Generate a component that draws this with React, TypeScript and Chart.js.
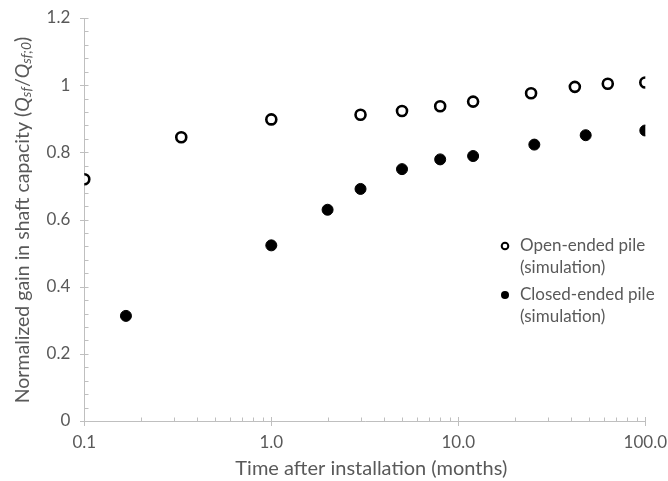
import React, { useEffect, useRef } from "react";
import { Chart, registerables } from "chart.js";

Chart.register(...registerables);

// ---- data ----
const openTimeMonths = [0.1, 0.33, 1, 3, 5, 8, 12, 24.5, 42, 63, 100];
const openGain = [0.72, 0.845, 0.898, 0.912, 0.923, 0.937, 0.951, 0.976, 0.995, 1.004, 1.008];
const closedTimeMonths = [0.167, 1, 2, 3, 5, 8, 12, 25.5, 48, 100];
const closedGain = [0.313, 0.523, 0.629, 0.691, 0.75, 0.779, 0.789, 0.823, 0.851, 0.865];

const xMajorTicks = [0.1, 1, 10, 100];
const xTickLabels = ["0.1", "1.0", "10.0", "100.0"];
const yMajorTicks = [0, 0.2, 0.4, 0.6, 0.8, 1, 1.2];
const yTickLabels = ["0", "0.2", "0.4", "0.6", "0.8", "1", "1.2"];
const yMinorStep = 0.04;

const seriesNames = [
  ["Open-ended pile", "(simulation)"],
  ["Closed-ended pile", "(simulation)"],
];
const xTitle = "Time after installation (months)";

const FONT = "Lato, 'Open Sans', sans-serif";
const TEXT_COLOR = "#595959";
const AXIS_COLOR = "#bfbfbf";

export default function App() {
  const ref = useRef<HTMLCanvasElement>(null);

  useEffect(() => {
    const canvas = ref.current!;

    const axesPlugin = {
      id: "excelAxes",
      beforeDatasetsDraw(chart: any) {
        const { ctx, chartArea, scales } = chart;
        const xs = scales.x;
        const ys = scales.y;
        const ax = Math.round(chartArea.left) + 0.5;
        const ay = Math.round(chartArea.bottom) + 0.5;
        ctx.save();
        ctx.strokeStyle = AXIS_COLOR;
        ctx.lineWidth = 1;
        ctx.beginPath();
        ctx.moveTo(ax, Math.round(chartArea.top));
        ctx.lineTo(ax, ay);
        ctx.lineTo(Math.round(chartArea.right) + 1, ay);
        for (const v of xMajorTicks) {
          const px = Math.round(xs.getPixelForValue(v)) + 0.5;
          ctx.moveTo(px, ay - 4.5);
          ctx.lineTo(px, ay + 4.5);
        }
        for (let e = -1; e < 2; e++) {
          for (let k = 2; k <= 9; k++) {
            const px = Math.round(xs.getPixelForValue(k * Math.pow(10, e))) + 0.5;
            ctx.moveTo(px, ay);
            ctx.lineTo(px, ay - 4);
          }
        }
        for (const v of yMajorTicks) {
          const py = Math.round(ys.getPixelForValue(v)) + 0.5;
          ctx.moveTo(ax - 4.5, py);
          ctx.lineTo(ax + 4, py);
        }
        const n = Math.round(1.2 / yMinorStep);
        for (let i = 1; i < n; i++) {
          if (i % 5 === 0) continue;
          const py = Math.round(ys.getPixelForValue(i * yMinorStep)) + 0.5;
          ctx.moveTo(ax, py);
          ctx.lineTo(ax + 4, py);
        }
        ctx.stroke();
        ctx.restore();
      },
      afterDraw(chart: any) {
        const { ctx, chartArea } = chart;
        ctx.save();
        ctx.fillStyle = TEXT_COLOR;
        // x title
        ctx.font = `20px ${FONT}`;
        ctx.textAlign = "center";
        ctx.textBaseline = "middle";
        ctx.fillText(xTitle, chartArea.left + 287, chartArea.bottom + 48);

        // y title (rich text, rotated)
        const segs: { t: string; italic: boolean; sub: boolean }[] = [
          { t: "Normalized gain in shaft capacity (", italic: false, sub: false },
          { t: "Q", italic: true, sub: false },
          { t: "sf", italic: true, sub: true },
          { t: "/", italic: false, sub: false },
          { t: "Q", italic: true, sub: false },
          { t: "sf;0", italic: true, sub: true },
          { t: ")", italic: false, sub: false },
        ];
        const fontFor = (s: { italic: boolean; sub: boolean }) =>
          `${s.italic ? "italic " : ""}${s.sub ? 14 : 19.5}px ${FONT}`;
        let total = 0;
        const widths = segs.map((s) => {
          ctx.font = fontFor(s);
          const w = ctx.measureText(s.t).width;
          total += w;
          return w;
        });
        ctx.translate(22.5, chartArea.top + 202);
        ctx.rotate(-Math.PI / 2);
        ctx.textAlign = "left";
        ctx.textBaseline = "middle";
        let cx = -total / 2;
        segs.forEach((s, i) => {
          ctx.font = fontFor(s);
          ctx.fillText(s.t, cx, s.sub ? 4 : 0);
          cx += widths[i];
        });
        ctx.restore();

        // legend
        ctx.save();
        const mx = chartArea.right - 140.3;
        const rows = [chartArea.top + 228, chartArea.top + 277];
        ctx.font = `17px ${FONT}`;
        ctx.textAlign = "left";
        ctx.textBaseline = "middle";
        rows.forEach((ry, i) => {
          ctx.beginPath();
          ctx.arc(mx, ry, i === 0 ? 3.3 : 4, 0, Math.PI * 2);
          if (i === 0) {
            ctx.fillStyle = "#fff";
            ctx.fill();
            ctx.lineWidth = 2;
            ctx.strokeStyle = "#000";
            ctx.stroke();
          } else {
            ctx.fillStyle = "#000";
            ctx.fill();
          }
          ctx.fillStyle = TEXT_COLOR;
          seriesNames[i].forEach((line, j) => {
            ctx.fillText(line, mx + 15, ry + j * 22);
          });
        });
        ctx.restore();
      },
    };

    const chart = new Chart(canvas, {
      type: "scatter",
      data: {
        datasets: [
          {
            label: seriesNames[0].join(" "),
            data: openTimeMonths.map((x, i) => ({ x, y: openGain[i] })),
            pointRadius: 5,
            pointHoverRadius: 5,
            pointBorderWidth: 2.6,
            pointBackgroundColor: "#ffffff",
            pointBorderColor: "#000000",
          },
          {
            label: seriesNames[1].join(" "),
            data: closedTimeMonths.map((x, i) => ({ x, y: closedGain[i] })),
            pointRadius: 5.5,
            pointHoverRadius: 5.5,
            pointBorderWidth: 1,
            pointBackgroundColor: "#000000",
            pointBorderColor: "#000000",
          },
        ],
      },
      options: {
        responsive: false,
        animation: false,
        events: [],
        layout: { padding: { top: 18, right: 22.7, left: 0, bottom: 0 } },
        plugins: { legend: { display: false }, tooltip: { enabled: false } },
        scales: {
          x: {
            type: "logarithmic",
            min: 0.1,
            max: 100,
            grid: { display: false, drawTicks: false },
            border: { display: false },
            afterBuildTicks: (s: any) => {
              s.ticks = xMajorTicks.map((v) => ({ value: v }));
            },
            afterFit: (s: any) => {
              s.height = 60;
              s.paddingLeft = 0;
              s.paddingRight = 0;
            },
            ticks: {
              autoSkip: false,
              maxRotation: 0,
              padding: 11,
              color: TEXT_COLOR,
              font: { family: FONT, size: 17 },
              callback: (_v: any, i: number) => xTickLabels[i],
            },
          },
          y: {
            type: "linear",
            min: 0,
            max: 1.2,
            grid: { display: false, drawTicks: false },
            border: { display: false },
            afterBuildTicks: (s: any) => {
              s.ticks = yMajorTicks.map((v) => ({ value: v }));
            },
            afterFit: (s: any) => {
              s.width = 84.3;
              s.paddingTop = 0;
              s.paddingBottom = 0;
            },
            ticks: {
              autoSkip: false,
              padding: 14,
              color: TEXT_COLOR,
              font: { family: FONT, size: 17 },
              callback: (_v: any, i: number) => yTickLabels[i],
            },
          },
        },
      },
      plugins: [axesPlugin],
    } as any);

    return () => chart.destroy();
  }, []);

  return (
    <div style={{ position: "fixed", left: 0, top: 0, width: 668, height: 481, background: "#fff" }}>
      <canvas ref={ref} width={668} height={481} style={{ width: 668, height: 481, display: "block" }} />
    </div>
  );
}
